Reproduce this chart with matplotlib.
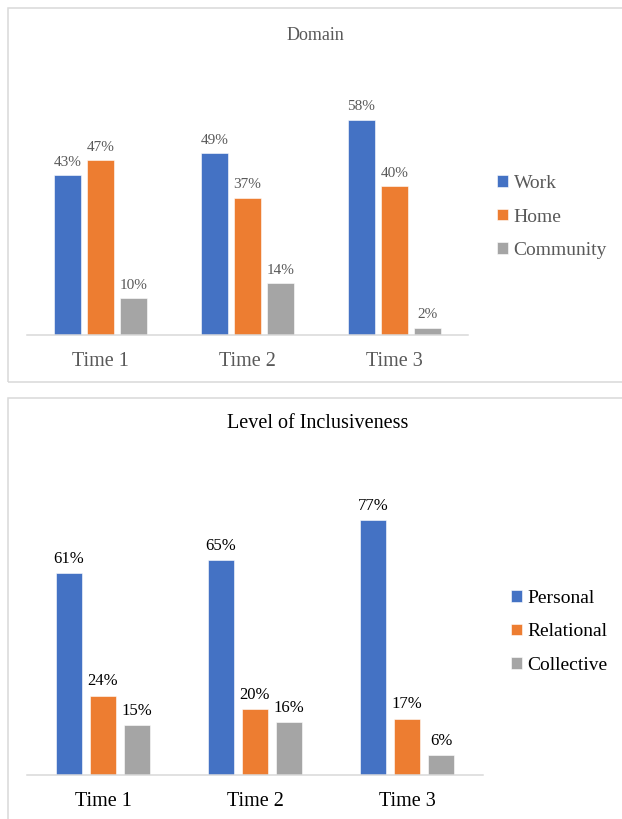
import numpy as np
import matplotlib
matplotlib.use("Agg")
import matplotlib.pyplot as plt
from matplotlib.patches import Rectangle

plt.rcParams['font.family'] = ['Liberation Serif', 'DejaVu Serif']

times = ["Time 1", "Time 2", "Time 3"]

domain_names = ["Work", "Home", "Community"]
work = [43, 49, 58]
home = [47, 37, 40]
community = [10, 14, 2]

incl_names = ["Personal", "Relational", "Collective"]
personal = [61, 65, 77]
relational = [24, 20, 17]
collective = [15, 16, 6]

colors = ["#4472c4", "#ed7d31", "#a5a5a5"]

W, H = 622, 819
fig = plt.figure(figsize=(W / 100, H / 100), dpi=100)


def px_axes(x0, x1, ytop, ybot):
    return fig.add_axes([x0 / W, 1 - ybot / H, (x1 - x0) / W, (ybot - ytop) / H])


def panel_box(x0, y0, x1, y1):
    r = Rectangle((x0 / W, 1 - y1 / H), (x1 - x0) / W, (y1 - y0) / H,
                  transform=fig.transFigure, fill=False,
                  edgecolor="#d9d9d9", linewidth=1.1)
    fig.patches.append(r)


def bar_panel(ax, series, names, width, step, ymax, tcol, lab_size, leg_x, leg_y):
    x = np.arange(len(times))
    for i, vals in enumerate(series):
        pos = x + (i - 1) * step
        bars = ax.bar(pos, vals, width=width, color=colors[i], label=names[i],
                      edgecolor="white", linewidth=0.4)
        for b, v in zip(bars, vals):
            ax.annotate("{}%".format(v), (b.get_x() + b.get_width() / 2, v),
                        xytext=(0, 4.5), textcoords="offset points",
                        ha="center", va="bottom", fontsize=lab_size, color=tcol)
    ax.set_xlim(-0.5, 2.5)
    ax.set_ylim(0, ymax)
    for s in ["top", "right", "left"]:
        ax.spines[s].set_visible(False)
    ax.spines["bottom"].set_color("#d9d9d9")
    ax.spines["bottom"].set_linewidth(1.1)
    ax.set_yticks([])
    ax.set_xticks(x)
    ax.set_xticklabels(times, fontsize=14.5, color=tcol)
    ax.tick_params(axis="x", length=0, pad=12)
    leg = ax.legend(loc="center left", bbox_to_anchor=(leg_x / W, 1 - leg_y / H),
                    bbox_transform=fig.transFigure, frameon=False, fontsize=14,
                    handlelength=0.55, handleheight=0.55, handletextpad=0.3,
                    labelspacing=0.85, borderaxespad=0, borderpad=0)
    for t in leg.get_texts():
        t.set_color(tcol)


# top panel - Domain
panel_box(8, 8, 640, 382)
ax1 = px_axes(27, 468, 75, 335)
bar_panel(ax1, [work, home, community], domain_names, 0.177, 0.2245, 70,
          "#595959", 11, 497, 217)
fig.text(315 / W, 1 - 36 / H, "Domain", ha="center", va="center",
         fontsize=13, color="#595959")

# bottom panel - Level of Inclusiveness
panel_box(8, 398, 640, 840)
ax2 = px_axes(27, 483, 477, 775)
bar_panel(ax2, [personal, relational, collective], incl_names, 0.171, 0.224, 90,
          "black", 12, 511, 632)
fig.text(318 / W, 1 - 423 / H, "Level of Inclusiveness", ha="center",
         va="center", fontsize=14.5, color="black")

fig.savefig("out.png", dpi=100)
